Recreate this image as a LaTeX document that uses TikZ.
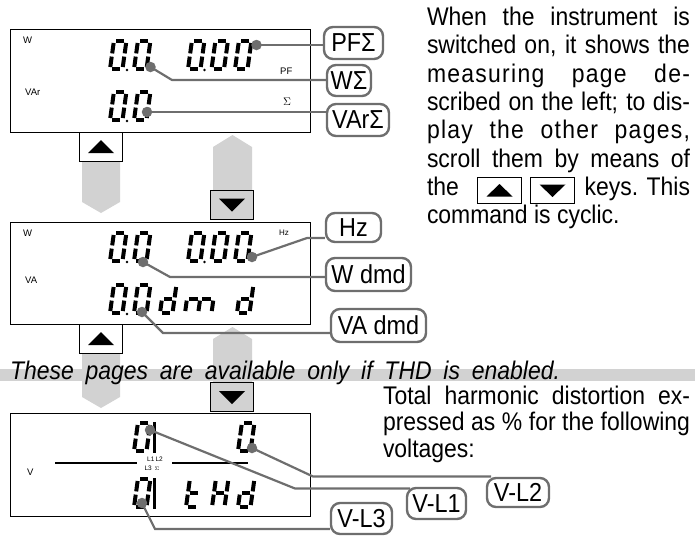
\documentclass[tikz,border=0pt]{standalone}
\usepackage{fontspec}
\setmainfont{Liberation Sans}
\newfontfamily\bodyfont[FakeStretch=0.9]{Liberation Sans}
\usetikzlibrary{calc}
\definecolor{lgrey}{HTML}{D2D2D2}
\definecolor{cgrey}{HTML}{6E6E6E}
\tikzset{
  seg/.style={line width=4pt, black},
  callbox/.style={draw=cgrey, line width=2.4pt, rounded corners=9pt, fill=white, inner sep=0pt, text=black,
    font=\bodyfont\fontsize{26}{26}\selectfont},
  lead/.style={draw=cgrey, line width=2.2pt},
  dotc/.style={circle, fill=cgrey, inner sep=0pt, minimum size=10.5pt},
  lcd/.style={draw=black, line width=0.8pt, inner sep=0pt, anchor=north west},
  keybox/.style={draw=black, line width=1pt, minimum width=43pt, minimum height=29pt, inner sep=0pt},
  tiny/.style={font=\fontsize{9.5}{9.5}\selectfont, inner sep=0pt, anchor=base west},
  body/.style={font=\bodyfont\fontsize{25.5}{25.5}\selectfont, inner sep=0pt, outer sep=0pt, anchor=base west},
}
\newcommand\segs[3]{%
\begin{scope}[shift={(#1,#2)},xslant=0.14]
\coordinate (sga1) at (2.2,-28); \coordinate (sga2) at (10.3,-28);
\coordinate (sgb1) at (12.5,-26); \coordinate (sgb2) at (12.5,-15.6);
\coordinate (sgc1) at (12.5,-12.4); \coordinate (sgc2) at (12.5,-2);
\coordinate (sgd1) at (2.2,0); \coordinate (sgd2) at (10.3,0);
\coordinate (sge1) at (0,-12.4); \coordinate (sge2) at (0,-2);
\coordinate (sgf1) at (0,-26); \coordinate (sgf2) at (0,-15.6);
\coordinate (sgg1) at (2.2,-14); \coordinate (sgg2) at (10.3,-14);
\foreach \s in {#3}{\draw[seg] (sg\s1) -- (sg\s2);}
\end{scope}}
\newcommand\segm[2]{%
\begin{scope}[shift={(#1,#2)},xslant=0.14]
\draw[seg] (2,-14) -- (11.5,-14);
\draw[seg] (15,-14) -- (24.5,-14);
\draw[seg] (0,-12.4) -- (0,-2);
\draw[seg] (13.2,-12.4) -- (13.2,-2);
\draw[seg] (26.5,-12.4) -- (26.5,-2);
\end{scope}}
\newcommand\dpt[2]{\fill (#1,#2) circle (1.3pt);}
\begin{document}
\begin{tikzpicture}[x=1pt,y=-1pt]
\useasboundingbox (0,0) rectangle (695,539);
% grey band and grey arrows
\fill[lgrey] (0,369) rectangle (695,381);
\fill[lgrey] (82,162) -- (120,162) -- (120,202) -- (101,213) -- (82,202) -- cycle;
\fill[lgrey] (213,190) -- (213,147) -- (232.5,135) -- (252,147) -- (252,190) -- cycle;
\fill[lgrey] (82,354) -- (120,354) -- (120,397) -- (101,408) -- (82,397) -- cycle;
\fill[lgrey] (213,382) -- (213,339) -- (232.5,327) -- (252,339) -- (252,382) -- cycle;

% ---------- display 1
\node[lcd, minimum width=300pt, minimum height=103pt] (D1) at (10,29) {};
\node[tiny] (t1a) at (23,43.5) {W};
\node[tiny] (t1b) at (25,95) {VAr};
\node[tiny] (t1c) at (280,74) {PF};
\node[inner sep=0pt, anchor=base west, font=\fontsize{11}{11}\selectfont] (t1d) at (283,105) {$\Sigma$};
\segs{110}{69}{a,b,c,d,e,f}
\segs{134}{69}{a,b,c,d,e,f}
\segs{188}{69}{a,b,c,d,e,f}
\segs{211.5}{69}{a,b,c,d,e,f}
\segs{235}{69}{a,b,c,d,e,f}
\dpt{127}{70}\dpt{204.5}{70}
\segs{110}{120}{a,b,c,d,e,f}
\segs{134}{120}{a,b,c,d,e,f}
\dpt{127}{121}

% ---------- display 2
\node[lcd, minimum width=300pt, minimum height=102pt] (D2) at (10,222) {};
\node[tiny] (t2a) at (23,236) {W};
\node[tiny] (t2b) at (25,283) {VA};
\node[tiny, font=\fontsize{8}{8}\selectfont] (t2c) at (279,235) {Hz};
\segs{110}{261}{a,b,c,d,e,f}
\segs{134}{261}{a,b,c,d,e,f}
\segs{188}{261}{a,b,c,d,e,f}
\segs{211.5}{261}{a,b,c,d,e,f}
\segs{235}{261}{a,b,c,d,e,f}
\dpt{127}{262}\dpt{204.5}{262}
\segs{110}{313}{a,b,c,d,e,f}
\segs{134}{313}{a,b,c,d,e,f}
\dpt{127}{314}
\segs{160}{313}{b,c,d,e,g}
\segm{185}{313}
\segs{237}{313}{b,c,d,e,g}

% ---------- display 3
\node[lcd, minimum width=300pt, minimum height=103pt] (D3) at (10,413) {};
\node[tiny] (t3a) at (27,475) {V};
\draw[line width=1.2pt] (55,463) -- (137,463);
\draw[line width=1.2pt] (172,463) -- (248,463);
\node[inner sep=0pt, anchor=base, font=\fontsize{6.5}{6.5}\selectfont] (t3b) at (155,461.5) {L1\,L2};
\node[inner sep=0pt, anchor=base, font=\fontsize{6.5}{6.5}\selectfont] (t3c) at (152,470.5) {L3\ \,$\scriptstyle\Sigma$};
\segs{134}{451}{a,b,c,d,e,f}
\segs{238}{451}{a,b,c,d,e,f}
\segs{134}{507}{a,b,c,d,e,f}
\segs{186}{507}{d,e,f,g}
\segs{212}{507}{b,c,e,f,g}
\segs{238}{507}{b,c,d,e,g}
\draw[line width=2.6pt] (154.5,422) -- (154.5,453);
\draw[line width=2.6pt] (154.5,478) -- (154.5,509);

% ---------- keys
\node[keybox, fill=white] (ku1) at (101,147) {};
\fill ([shift={(-13,6)}]ku1.center) -- ([shift={(13,6)}]ku1.center) -- ([shift={(0,-7)}]ku1.center) -- cycle;
\node[keybox, fill=lgrey] (kd1) at (232,204.5) {};
\fill ([shift={(-13,-6)}]kd1.center) -- ([shift={(13,-6)}]kd1.center) -- ([shift={(0,7)}]kd1.center) -- cycle;
\node[keybox, fill=white] (ku2) at (101,339) {};
\fill ([shift={(-13,6)}]ku2.center) -- ([shift={(13,6)}]ku2.center) -- ([shift={(0,-7)}]ku2.center) -- cycle;
\node[keybox, fill=lgrey] (kd2) at (232,397) {};
\fill ([shift={(-13,-6)}]kd2.center) -- ([shift={(13,-6)}]kd2.center) -- ([shift={(0,7)}]kd2.center) -- cycle;

% ---------- callout boxes
\node[callbox, minimum width=59pt, minimum height=32pt] (PF) at (353.5,43) {PFΣ};
\node[callbox, minimum width=44pt, minimum height=31pt] (WS) at (349,80.5) {WΣ};
\node[callbox, minimum width=62pt, minimum height=32pt] (VS) at (358,120) {VArΣ};
\node[callbox, minimum width=55pt, minimum height=29pt] (HZ) at (353.5,227.5) {Hz};
\node[callbox, minimum width=85pt, minimum height=33pt] (WD) at (368.5,274.5) {W dmd};
\node[callbox, minimum width=95pt, minimum height=33pt] (VD) at (378.5,325.5) {VA dmd};
\node[callbox, minimum width=59pt, minimum height=31pt] (L1) at (436.5,503.5) {V-L1};
\node[callbox, minimum width=62pt, minimum height=29pt] (L2) at (518,492.5) {V-L2};
\node[callbox, minimum width=61pt, minimum height=31pt] (L3) at (361.5,518.5) {V-L3};

% ---------- dots and leaders
\node[dotc] (dPF) at (256.5,45) {};
\node[dotc] (dWS) at (150.5,67) {};
\node[dotc] (dVS) at (147,112) {};
\node[dotc] (dHZ) at (252,257) {};
\node[dotc] (dWD) at (143,262) {};
\node[dotc] (dVD) at (142,312) {};
\node[dotc] (dL1) at (150,430) {};
\node[dotc] (dL2) at (252,448) {};
\node[dotc] (dL3) at (142,503) {};
\coordinate (bWS) at (172,80);
\coordinate (bHZ) at (307,238);
\coordinate (bWD) at (170,277);
\coordinate (bVD) at (163,333);
\coordinate (bL1) at (295,488.5);
\coordinate (eL1) at (410,488.5);
\coordinate (bL2) at (313,476.5);
\coordinate (eL2) at (491,476.5);
\coordinate (bL3) at (155,529);
\draw[lead] (dPF.center) -- (dPF.center -| PF.west);
\draw[lead] (dWS.center) -- (bWS) -- (bWS -| WS.west);
\draw[lead] (dVS.center) -- (dVS.center -| VS.west);
\draw[lead] (dHZ.center) -- (bHZ) -- (bHZ -| HZ.west);
\draw[lead] (dWD.center) -- (bWD) -- (bWD -| WD.west);
\draw[lead] (dVD.center) -- (bVD) -- (bVD -| VD.west);
\draw[lead] (dL1.center) -- (bL1) -- (eL1);
\draw[lead] (dL2.center) -- (bL2) -- (eL2);
\draw[lead] (dL3.center) -- (bL3) -- (bL3 -| L3.west);

% ---------- text paragraph 1
\node[body] (p1) at (427,25.5) {\makebox[263pt][s]{When the instrument is}};
\node[body] (p2) at (427,53.8) {\makebox[263pt][s]{switched on, it shows the}};
\node[body] (p3) at (427,82.1) {\makebox[263pt][s]{\addfontfeature{LetterSpace=5}measuring page de-}};
\node[body] (p4) at (427,110.4) {\makebox[263pt][s]{scribed on the left; to dis-}};
\node[body] (p5) at (427,138.7) {\makebox[263pt][s]{\addfontfeature{LetterSpace=5}play the other pages,}};
\node[body] (p6) at (427,167) {\makebox[263pt][s]{scroll them by means of}};
\node[body] (p7a) at (427,195.3) {the};
\node[body, anchor=base east] (p7b) at (690,195.3) {keys. This};
\node[body] (p8) at (427,223.6) {command is cyclic.};
\node[keybox, minimum width=44pt, minimum height=26pt, fill=white] (tk1) at (499.5,190.5) {};
\fill ([shift={(-13,6)}]tk1.center) -- ([shift={(13,6)}]tk1.center) -- ([shift={(0,-6.5)}]tk1.center) -- cycle;
\node[keybox, minimum width=44pt, minimum height=26pt, fill=white] (tk2) at (552.5,190.5) {};
\fill ([shift={(-13,-6)}]tk2.center) -- ([shift={(13,-6)}]tk2.center) -- ([shift={(0,6.5)}]tk2.center) -- cycle;

% ---------- italic line
\node[body, font=\bodyfont\itshape\fontsize{25.5}{25.5}\selectfont] (it) at (10,379) {\makebox[550pt][s]{These pages are available only if THD is enabled.}};

% ---------- text paragraph 2
\node[body] (q1) at (383,404) {\makebox[307pt][s]{Total harmonic distortion ex-}};
\node[body] (q2) at (383,430.5) {\makebox[307pt][s]{pressed as \% for the following}};
\node[body] (q3) at (383,457) {voltages:};
\end{tikzpicture}
\end{document}
